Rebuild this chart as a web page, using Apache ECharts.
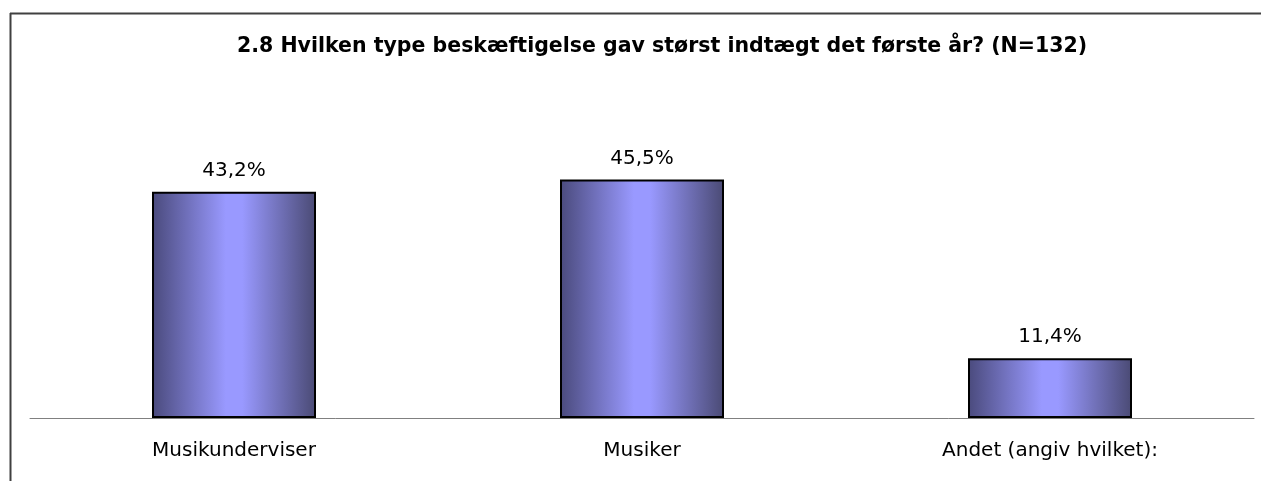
<!DOCTYPE html>
<html>
<head>
<meta charset="utf-8">
<script src="https://cdn.jsdelivr.net/npm/echarts@6/dist/echarts.min.js"></script>
<style>
  html, body { margin: 0; padding: 0; background: #fff; }
  #chart { width: 1261px; height: 481px; }
</style>
</head>
<body>
<div id="chart"></div>
<script>
  // data
  var categories = ['Musikunderviser', 'Musiker', 'Andet (angiv hvilket):']
  var shares = [43.2, 45.5, 11.4]
  var titleText = '2.8 Hvilken type beskæftigelse gav størst indtægt det første år? (N=132)'

  var chart = echarts.init(document.getElementById('chart'))
  var barFill = new echarts.graphic.LinearGradient(0, 0, 1, 0, [
    { offset: 0, color: '#4a4a7c' },
    { offset: 0.45, color: '#9999ff' },
    { offset: 0.55, color: '#9999ff' },
    { offset: 1, color: '#4a4a74' }
  ])

  var option = {
    animation: false,
    title: {
      text: titleText,
      left: 657,
      textAlign: 'center',
      top: 31,
      textStyle: {
        fontFamily: 'DejaVu Sans',
        fontWeight: 'bold',
        fontSize: 20.5,
        color: '#000'
      }
    },
    graphic: [
      // frame of the chart area (only left and top edges are visible)
      { type: 'line', shape: { x1: 10.5, y1: 13, x2: 10.5, y2: 481 }, style: { stroke: '#404040', lineWidth: 2 } },
      { type: 'line', shape: { x1: 10, y1: 13.5, x2: 1261, y2: 13.5 }, style: { stroke: '#404040', lineWidth: 2 } }
    ],
    grid: {
      left: 30,
      right: 7,
      top: 156,
      bottom: 63
    },
    xAxis: {
      type: 'category',
      data: categories,
      axisLine: { lineStyle: { color: '#808080', width: 1 } },
      axisTick: { length: 6, lineStyle: { color: '#808080' } },
      axisLabel: {
        margin: 23,
        fontFamily: 'DejaVu Sans',
        fontSize: 20,
        color: '#000'
      }
    },
    yAxis: {
      type: 'value',
      min: 0,
      max: 50,
      show: false
    },
    series: [{
      type: 'bar',
      data: shares,
      barWidth: 164,
      itemStyle: {
        color: barFill,
        borderColor: '#000',
        borderWidth: 2
      },
      label: {
        show: true,
        position: 'top',
        distance: 11,
        fontFamily: 'DejaVu Sans',
        fontSize: 20,
        color: '#000',
        formatter: function (p) {
          return p.value.toFixed(1).replace('.', ',') + '%'
        }
      }
    }]
  }
  chart.setOption(option)
</script>
</body>
</html>
